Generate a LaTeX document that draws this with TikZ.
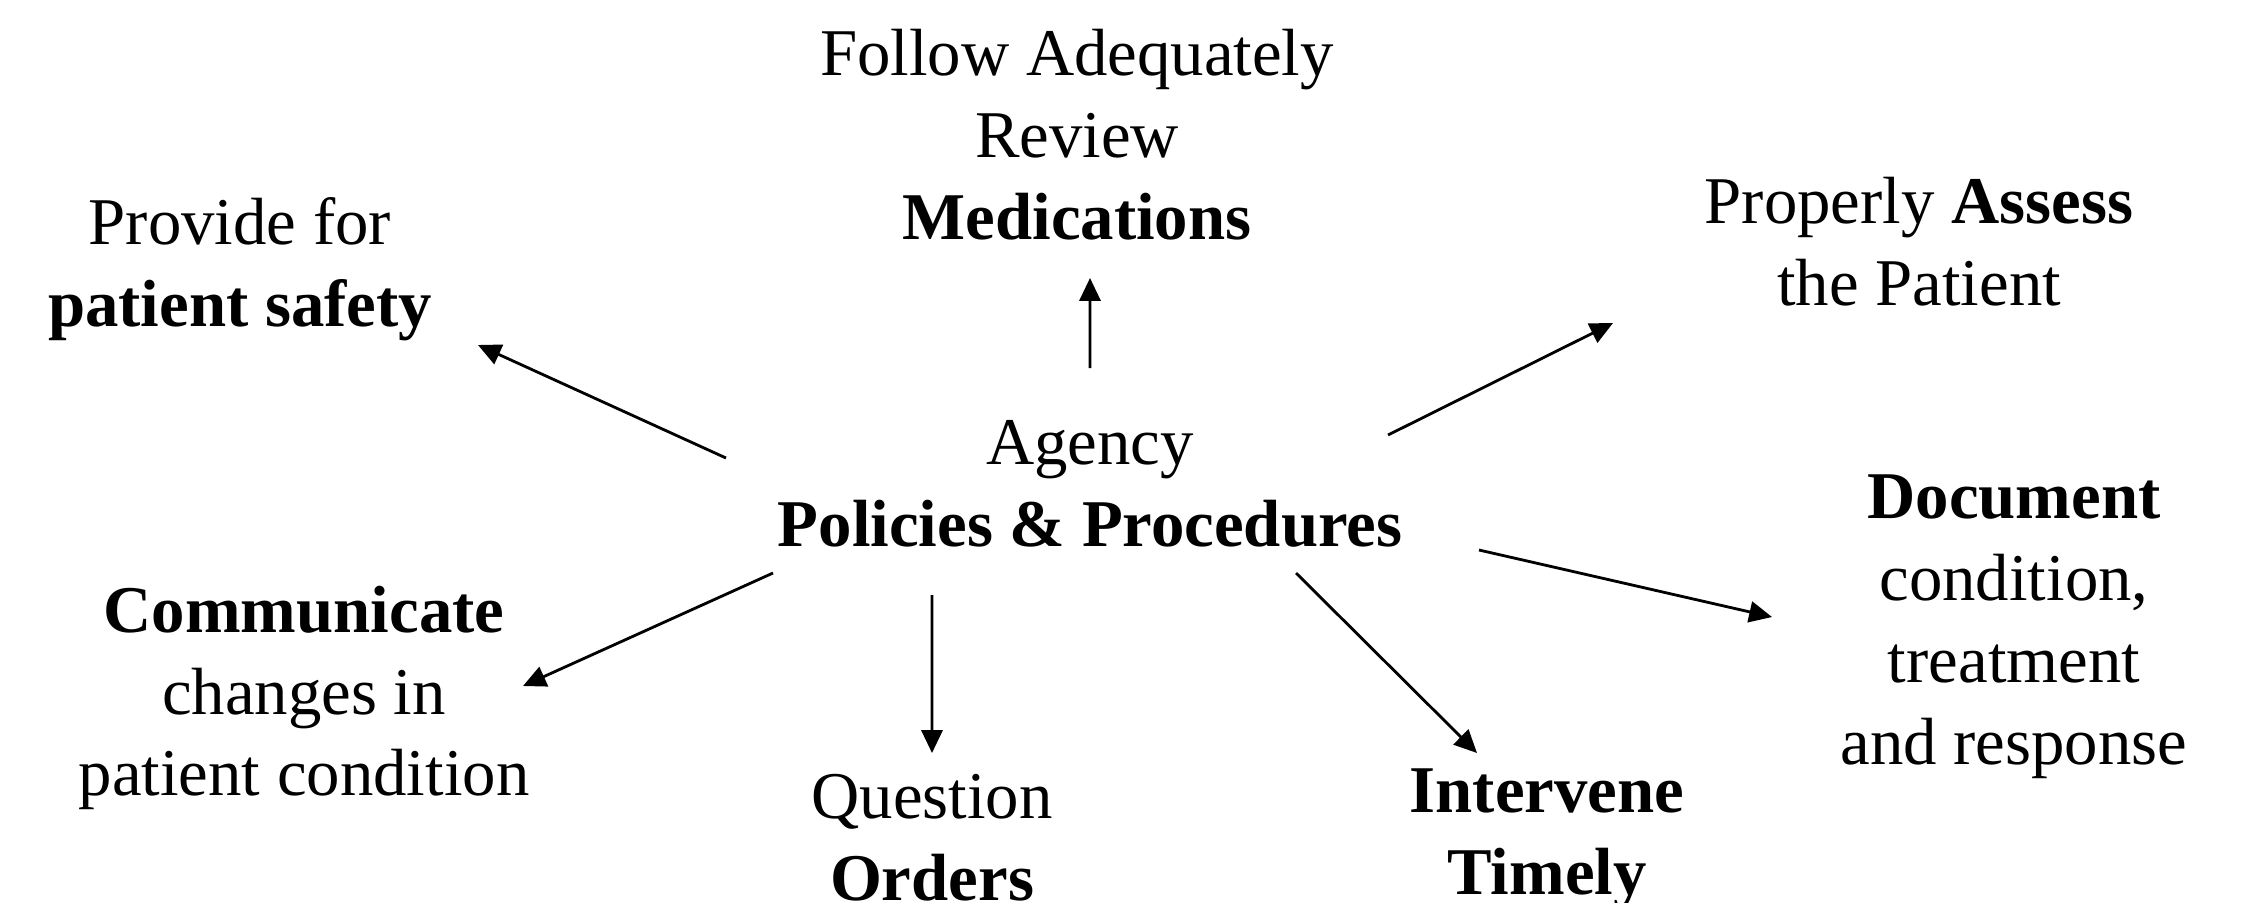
\documentclass[tikz,border=0pt]{standalone}
\usepackage{fontspec}
\setmainfont{Liberation Serif}
\usetikzlibrary{arrows.meta}

\tikzset{
    lbl/.style={align=center, inner sep=0pt, font=\fontsize{19}{23.3}\selectfont},
    arr/.style={-{Triangle[length=6.5pt,width=6pt]}, line width=0.8pt}
}

\begin{document}
\begin{tikzpicture}
                \useasboundingbox (0,0) rectangle (22.49,9.02);

                % centre and the seven duties round it
                \node[lbl] (agency) at (10.90,4.18) {Agency\\\textbf{Policies \& Procedures}};
                \node[lbl] (med) at (10.77,7.67) {Follow Adequately\\Review\\\textbf{Medications}};
                \node[lbl] (safety) at (2.40,6.33) {Provide for\\\textbf{patient safety}};
                \node[lbl] (assess) at (19.19,6.60) {Properly \textbf{Assess}\\the Patient};
                \node[lbl] (doc) at (20.14,2.75) {\textbf{Document}\\condition,\\treatment\\and response};
                \node[lbl] (comm) at (3.04,2.04) {\textbf{Communicate}\\changes in\\patient condition};
                \node[lbl] (quest) at (9.32,0.64) {Question\\\textbf{Orders}};
                \node[lbl] (interv) at (15.47,0.63) {\textbf{Intervene}\\\textbf{Timely}};

                \draw[arr] ([shift={(0,1.16)}]agency.center) -- ([shift={(0.13,-1.43)}]med.center);
                \draw[arr] ([shift={(-3.64,0.26)}]agency.center) -- ([shift={(2.38,-0.76)}]safety.center);
                \draw[arr] ([shift={(2.98,0.49)}]agency.center) -- ([shift={(-3.06,-0.81)}]assess.center);
                \draw[arr] ([shift={(3.89,-0.66)}]agency.center) -- ([shift={(-2.42,0.10)}]doc.center);
                \draw[arr] ([shift={(2.06,-0.89)}]agency.center) -- ([shift={(-0.70,0.86)}]interv.center);
                \draw[arr] ([shift={(-1.58,-1.11)}]agency.center) -- ([shift={(0,0.85)}]quest.center);
                \draw[arr] ([shift={(-3.17,-0.89)}]agency.center) -- ([shift={(2.19,0.12)}]comm.center);




            \end{tikzpicture}
\end{document}
